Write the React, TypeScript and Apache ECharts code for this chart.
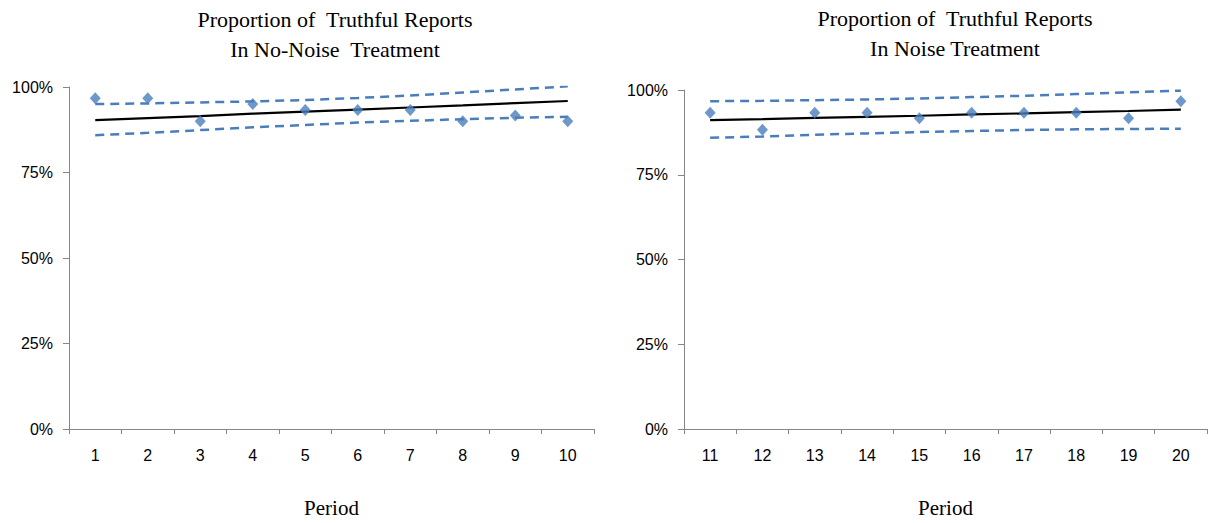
import React, { useEffect, useRef } from "react";
import * as echarts from "echarts";

// Left panel: No-Noise treatment (periods 1–10)
const periodsA = ["1", "2", "3", "4", "5", "6", "7", "8", "9", "10"];
const truthfulA = [96.7, 96.7, 90.0, 95.0, 93.3, 93.3, 93.3, 90.0, 91.7, 90.0];
const fitA = [90.3, 90.9, 91.5, 92.2, 92.8, 93.4, 94.0, 94.6, 95.3, 95.9];
const upperA = [95.0, 95.2, 95.5, 95.8, 96.2, 96.8, 97.5, 98.4, 99.3, 100.2];
const lowerA = [85.9, 86.6, 87.4, 88.2, 88.9, 89.6, 90.1, 90.6, 91.0, 91.3];

// Right panel: Noise treatment (periods 11–20)
const periodsB = ["11", "12", "13", "14", "15", "16", "17", "18", "19", "20"];
const truthfulB = [93.3, 88.3, 93.3, 93.3, 91.7, 93.3, 93.3, 93.3, 91.7, 96.7];
const fitB = [91.1, 91.4, 91.8, 92.1, 92.4, 92.8, 93.1, 93.5, 93.8, 94.2];
const upperB = [96.7, 96.8, 97.0, 97.2, 97.5, 97.9, 98.3, 98.8, 99.3, 99.8];
const lowerB = [85.9, 86.3, 86.8, 87.2, 87.6, 87.9, 88.2, 88.4, 88.5, 88.6];

const yTicks = [0, 25, 50, 75, 100];

const titleA = "Proportion of  Truthful Reports\nIn No-Noise  Treatment";
const titleB = "Proportion of  Truthful Reports\nIn Noise Treatment";
const xName = "Period";

const BLUE = "#4a7ebb";
const AXIS = "#868686";
const SERIF = "'Liberation Serif', 'DejaVu Serif', serif";
const SANS = "'Liberation Sans', Arial, sans-serif";

export default function App() {
  const ref = useRef<HTMLDivElement>(null);
  useEffect(() => {
    if (!ref.current) return;
    const chart = echarts.init(ref.current, undefined, { renderer: "svg" });

    const makeX = (idx: number, data: string[]) => ({
      type: "category",
      gridIndex: idx,
      data,
      boundaryGap: true,
      axisLine: { lineStyle: { color: AXIS, width: 1 } },
      axisTick: { show: true, length: 5, lineStyle: { color: AXIS } },
      axisLabel: { color: "#000", fontFamily: SANS, fontSize: 16, margin: 18 },
      splitLine: { show: false },
      name: xName,
      nameLocation: "middle",
      nameGap: 68,
      nameTextStyle: { fontFamily: SERIF, fontSize: 21, color: "#000" },
    });
    const makeY = (idx: number) => ({
      type: "value",
      gridIndex: idx,
      min: 0,
      max: 100,
      interval: 25,
      axisLine: { show: true, lineStyle: { color: AXIS, width: 1 } },
      axisTick: { show: true, length: 6, lineStyle: { color: AXIS } },
      axisLabel: {
        color: "#000",
        fontFamily: SANS,
        fontSize: 16,
        margin: 16,
        formatter: (v: number) => (yTicks.includes(v) ? v + "%" : ""),
      },
      splitLine: { show: false },
    });
    const lineSeries = (idx: number, data: number[], dashed: boolean) => ({
      type: "line",
      xAxisIndex: idx,
      yAxisIndex: idx,
      data,
      symbol: "none",
      silent: true,
      lineStyle: dashed
        ? { color: BLUE, width: 2.5, type: [9, 6] }
        : { color: "#000", width: 2.2, type: "solid" },
      z: dashed ? 2 : 3,
    });
    const scatterSeries = (idx: number, data: number[]) => ({
      type: "scatter",
      xAxisIndex: idx,
      yAxisIndex: idx,
      data,
      symbol: "diamond",
      symbolSize: [11, 12],
      itemStyle: { color: BLUE },
      z: 4,
    });

    chart.setOption({
      animation: false,
      backgroundColor: "#fff",
      title: [
        {
          text: titleA,
          left: 335,
          top: 4,
          padding: 0,
          textAlign: "center",
          textStyle: { fontFamily: SERIF, fontSize: 22, fontWeight: "normal", color: "#000", lineHeight: 30 },
        },
        {
          text: titleB,
          left: 955,
          top: 3,
          padding: 0,
          textAlign: "center",
          textStyle: { fontFamily: SERIF, fontSize: 22, fontWeight: "normal", color: "#000", lineHeight: 30 },
        },
      ],
      grid: [
        { left: 69, top: 87, width: 525, height: 346 },
        { left: 684, top: 90, width: 523, height: 346 },
      ],
      xAxis: [makeX(0, periodsA), makeX(1, periodsB)],
      yAxis: [makeY(0), makeY(1)],
      series: [
        lineSeries(0, upperA, true),
        lineSeries(0, lowerA, true),
        lineSeries(0, fitA, false),
        scatterSeries(0, truthfulA),
        lineSeries(1, upperB, true),
        lineSeries(1, lowerB, true),
        lineSeries(1, fitB, false),
        scatterSeries(1, truthfulB),
      ],
    });
    return () => chart.dispose();
  }, []);
  return (
    <div
      ref={ref}
      style={{ position: "fixed", left: 0, top: 0, width: 1209, height: 523, background: "#fff" }}
    />
  );
}
